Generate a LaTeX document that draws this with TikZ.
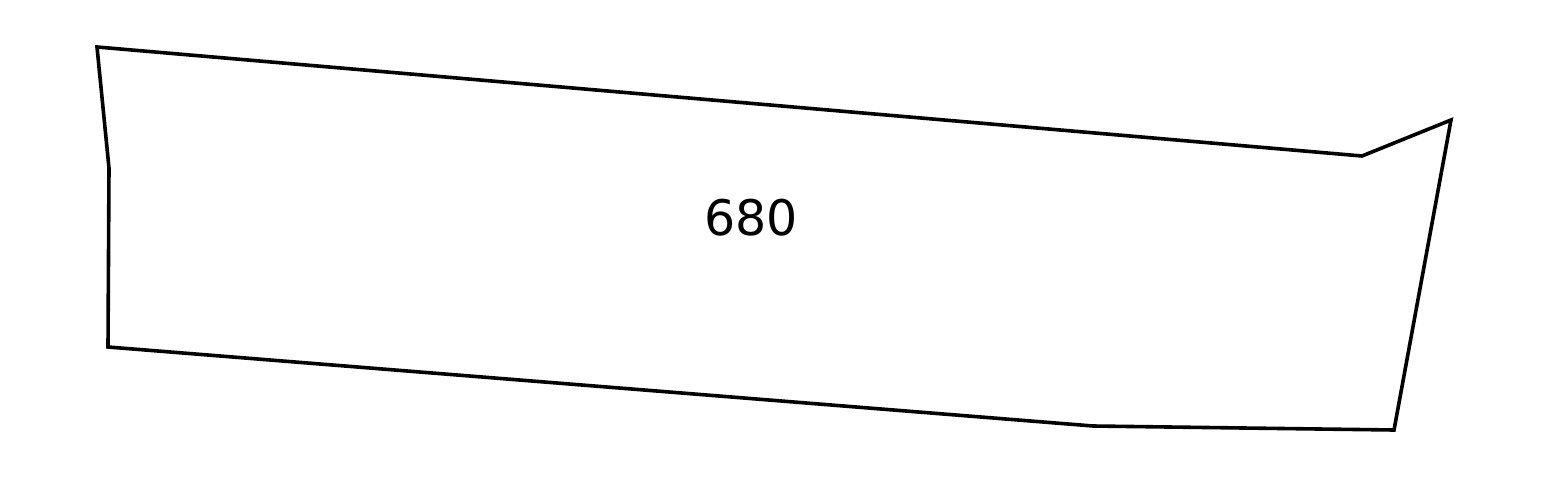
\documentclass[tikz,border=0pt]{standalone}
\usepackage{fontspec}
\setmainfont{DejaVu Sans}

\begin{document}
\begin{tikzpicture}[x=1pt, y=-1pt, outline/.style={draw=black, line width=3.6pt, line join=miter}, area/.style={font=\fontsize{49}{58}\selectfont, inner sep=0pt}]
\useasboundingbox (0,0) rectangle (1548,479);

\coordinate (p1) at (97,47);
\coordinate (p2) at (1362,156);
\coordinate (p3) at (1451,120);
\coordinate (p4) at (1394,430);
\coordinate (p5) at (1093,426);
\coordinate (p6) at (108,347);
\coordinate (p7) at (109,168);

\draw[outline] (p1) -- (p2) -- (p3) -- (p4) -- (p5) -- (p6) -- (p7) -- cycle;

\node[area] (label) at (751,218) {680};
\end{tikzpicture}
\end{document}
